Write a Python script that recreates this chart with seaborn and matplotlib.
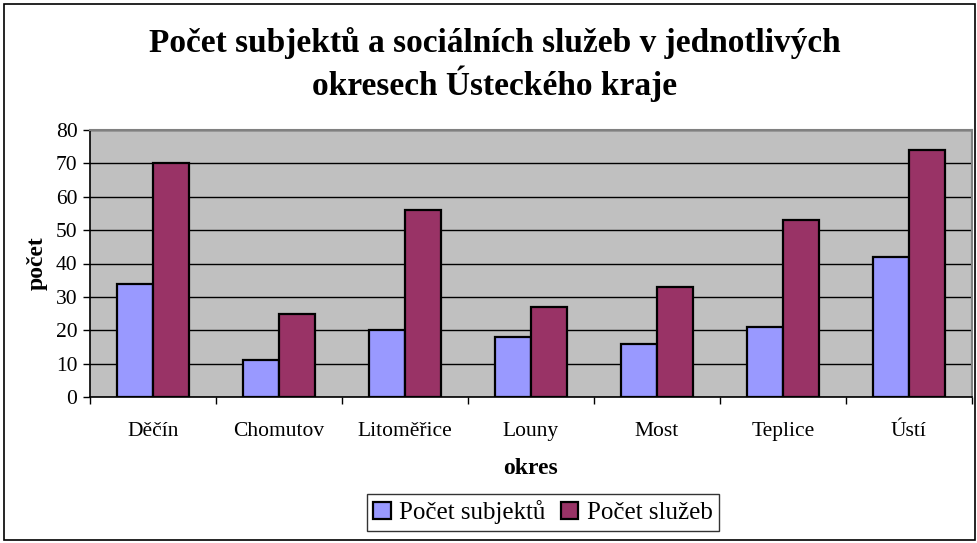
import matplotlib
matplotlib.use("Agg")
import matplotlib.pyplot as plt
import seaborn as sns
import pandas as pd
import numpy as np
from matplotlib.patches import Rectangle
from matplotlib.ticker import FixedLocator, NullFormatter

okresy = ["Děčín", "Chomutov", "Litoměřice", "Louny", "Most", "Teplice", "Ústí"]
subjekty = [34, 11, 20, 18, 16, 21, 42]
sluzby = [70, 25, 56, 27, 33, 53, 74]
serie = ["Počet subjektů", "Počet služeb"]
barvy = ["#9999FF", "#993366"]

df = pd.DataFrame({
    "okres": okresy * 2,
    "pocet": subjekty + sluzby,
    "serie": [serie[0]] * len(okresy) + [serie[1]] * len(okresy),
})

sns.set_style("white")
SERIF = ['Liberation Serif', 'DejaVu Serif']
plt.rcParams['font.family'] = SERIF
for k in ["text.color", "axes.labelcolor", "xtick.color", "ytick.color"]:
    plt.rcParams[k] = "black"

fig = plt.figure(figsize=(9.78, 5.43), dpi=100)
ax = fig.add_axes([90/978, (543-397)/543, (972-90)/978, (397-130)/543])

sns.barplot(data=df, x="okres", y="pocet", hue="serie", hue_order=serie,
            palette=barvy, width=0.572, gap=0, edgecolor="black", linewidth=1.6,
            saturation=1, legend=True, ax=ax)

ax.set_facecolor("#C0C0C0")
ax.set_ylim(0, 80)
ax.set_xlim(-0.5, len(okresy) - 0.5)
ax.set_yticks(range(0, 81, 10))
ax.yaxis.grid(True, color="black", linewidth=1.0)
ax.set_axisbelow(True)
for s in ["top", "right"]:
    ax.spines[s].set_color("#808080")
    ax.spines[s].set_linewidth(1.5)
for s in ["left", "bottom"]:
    ax.spines[s].set_color("black")
    ax.spines[s].set_linewidth(1.2)

ax.tick_params(axis="y", which="major", direction="out", length=5, width=1, color="black",
               labelsize=15.5, left=True, pad=4)
ax.tick_params(axis="x", which="major", length=0, labelsize=15.5, pad=18)
ax.xaxis.set_minor_locator(FixedLocator(np.arange(-0.5, len(okresy), 1.0)))
ax.xaxis.set_minor_formatter(NullFormatter())
ax.tick_params(axis="x", which="minor", direction="out", length=5, width=1, color="black", bottom=True)

ax.set_xlabel("okres", fontsize=17, fontweight="bold", labelpad=12, family=SERIF)
ax.set_ylabel("počet", fontsize=17, fontweight="bold", labelpad=6, family=SERIF)

fig.suptitle("Počet subjektů a sociálních služeb v jednotlivých\nokresech Ústeckého kraje",
             x=495/978, y=1 - 27/543, va="top", fontsize=24, fontweight="bold",
             linespacing=1.22, family=SERIF, color="black")

handles, labels = ax.get_legend_handles_labels()
leg = ax.legend(handles, labels, loc="center", bbox_to_anchor=(543/978, (543-512.5)/543),
                bbox_transform=fig.transFigure, ncol=2, frameon=True, fancybox=False,
                edgecolor="black", prop={"family": SERIF, "size": 18},
                handlelength=0.7, handleheight=0.7,
                handletextpad=0.35, columnspacing=0.6, borderpad=0.25, borderaxespad=0)
leg.get_frame().set_linewidth(1.0)
for t in leg.get_texts():
    t.set_fontfamily(SERIF)
    t.set_color("black")

fig.patches.append(Rectangle((4/978, 3/543), 971/978, 536/543, transform=fig.transFigure,
                             fill=False, edgecolor="black", linewidth=1.2))

fig.savefig("out.png", dpi=100)
